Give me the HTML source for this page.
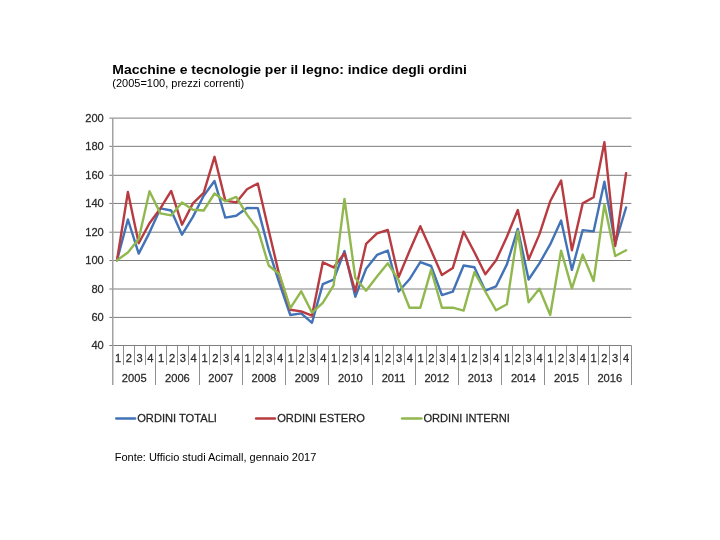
<!DOCTYPE html>
<html><head><meta charset="utf-8"><title>Macchine e tecnologie per il legno</title>
<style>
html,body{margin:0;padding:0;background:#fff;}
body{width:720px;height:540px;position:relative;overflow:hidden;font-family:"Liberation Sans",Arial,sans-serif;color:#000;}
.t{position:absolute;white-space:nowrap;}
#title{left:112.3px;top:60.6px;font-size:13.95px;font-weight:bold;line-height:17px;transform:scaleY(0.95);transform-origin:0 13.4px;}
#sub{left:112.3px;top:76.6px;font-size:11px;line-height:13px;transform:scaleY(0.95);transform-origin:0 10.5px;}
#src{left:114.7px;top:451px;font-size:11px;line-height:13px;}
</style></head><body>
<svg width="720" height="540" viewBox="0 0 720 540" style="position:absolute;left:0;top:0">
<line x1="109.3" x2="631.4" y1="345.50" y2="345.50" stroke="#7e7e7e" stroke-width="1"/>
<line x1="109.3" x2="631.4" y1="317.40" y2="317.40" stroke="#7e7e7e" stroke-width="1"/>
<line x1="109.3" x2="631.4" y1="289.00" y2="289.00" stroke="#7e7e7e" stroke-width="1"/>
<line x1="109.3" x2="631.4" y1="260.50" y2="260.50" stroke="#7e7e7e" stroke-width="1"/>
<line x1="109.3" x2="631.4" y1="232.20" y2="232.20" stroke="#7e7e7e" stroke-width="1"/>
<line x1="109.3" x2="631.4" y1="203.45" y2="203.45" stroke="#7e7e7e" stroke-width="1"/>
<line x1="109.3" x2="631.4" y1="175.30" y2="175.30" stroke="#7e7e7e" stroke-width="1"/>
<line x1="109.3" x2="631.4" y1="146.35" y2="146.35" stroke="#7e7e7e" stroke-width="1"/>
<line x1="109.3" x2="631.4" y1="118.10" y2="118.10" stroke="#7e7e7e" stroke-width="1"/>
<line x1="112.75" x2="112.75" y1="118.1" y2="385" stroke="#a2a2a2" stroke-width="1.5"/>
<line x1="123.5" x2="123.5" y1="345.5" y2="365.0" stroke="#8e8e8e" stroke-width="1"/>
<line x1="134.5" x2="134.5" y1="345.5" y2="365.0" stroke="#8e8e8e" stroke-width="1"/>
<line x1="145.5" x2="145.5" y1="345.5" y2="365.0" stroke="#8e8e8e" stroke-width="1"/>
<line x1="155.5" x2="155.5" y1="345.5" y2="385.0" stroke="#8e8e8e" stroke-width="1"/>
<line x1="166.5" x2="166.5" y1="345.5" y2="365.0" stroke="#8e8e8e" stroke-width="1"/>
<line x1="177.5" x2="177.5" y1="345.5" y2="365.0" stroke="#8e8e8e" stroke-width="1"/>
<line x1="188.5" x2="188.5" y1="345.5" y2="365.0" stroke="#8e8e8e" stroke-width="1"/>
<line x1="199.5" x2="199.5" y1="345.5" y2="385.0" stroke="#8e8e8e" stroke-width="1"/>
<line x1="209.5" x2="209.5" y1="345.5" y2="365.0" stroke="#8e8e8e" stroke-width="1"/>
<line x1="220.5" x2="220.5" y1="345.5" y2="365.0" stroke="#8e8e8e" stroke-width="1"/>
<line x1="231.5" x2="231.5" y1="345.5" y2="365.0" stroke="#8e8e8e" stroke-width="1"/>
<line x1="242.5" x2="242.5" y1="345.5" y2="385.0" stroke="#8e8e8e" stroke-width="1"/>
<line x1="253.5" x2="253.5" y1="345.5" y2="365.0" stroke="#8e8e8e" stroke-width="1"/>
<line x1="263.5" x2="263.5" y1="345.5" y2="365.0" stroke="#8e8e8e" stroke-width="1"/>
<line x1="274.5" x2="274.5" y1="345.5" y2="365.0" stroke="#8e8e8e" stroke-width="1"/>
<line x1="285.5" x2="285.5" y1="345.5" y2="385.0" stroke="#8e8e8e" stroke-width="1"/>
<line x1="296.5" x2="296.5" y1="345.5" y2="365.0" stroke="#8e8e8e" stroke-width="1"/>
<line x1="307.5" x2="307.5" y1="345.5" y2="365.0" stroke="#8e8e8e" stroke-width="1"/>
<line x1="317.5" x2="317.5" y1="345.5" y2="365.0" stroke="#8e8e8e" stroke-width="1"/>
<line x1="328.5" x2="328.5" y1="345.5" y2="385.0" stroke="#8e8e8e" stroke-width="1"/>
<line x1="339.5" x2="339.5" y1="345.5" y2="365.0" stroke="#8e8e8e" stroke-width="1"/>
<line x1="350.5" x2="350.5" y1="345.5" y2="365.0" stroke="#8e8e8e" stroke-width="1"/>
<line x1="361.5" x2="361.5" y1="345.5" y2="365.0" stroke="#8e8e8e" stroke-width="1"/>
<line x1="372.5" x2="372.5" y1="345.5" y2="385.0" stroke="#8e8e8e" stroke-width="1"/>
<line x1="382.5" x2="382.5" y1="345.5" y2="365.0" stroke="#8e8e8e" stroke-width="1"/>
<line x1="393.5" x2="393.5" y1="345.5" y2="365.0" stroke="#8e8e8e" stroke-width="1"/>
<line x1="404.5" x2="404.5" y1="345.5" y2="365.0" stroke="#8e8e8e" stroke-width="1"/>
<line x1="415.5" x2="415.5" y1="345.5" y2="385.0" stroke="#8e8e8e" stroke-width="1"/>
<line x1="426.5" x2="426.5" y1="345.5" y2="365.0" stroke="#8e8e8e" stroke-width="1"/>
<line x1="436.5" x2="436.5" y1="345.5" y2="365.0" stroke="#8e8e8e" stroke-width="1"/>
<line x1="447.5" x2="447.5" y1="345.5" y2="365.0" stroke="#8e8e8e" stroke-width="1"/>
<line x1="458.5" x2="458.5" y1="345.5" y2="385.0" stroke="#8e8e8e" stroke-width="1"/>
<line x1="469.5" x2="469.5" y1="345.5" y2="365.0" stroke="#8e8e8e" stroke-width="1"/>
<line x1="480.5" x2="480.5" y1="345.5" y2="365.0" stroke="#8e8e8e" stroke-width="1"/>
<line x1="490.5" x2="490.5" y1="345.5" y2="365.0" stroke="#8e8e8e" stroke-width="1"/>
<line x1="501.5" x2="501.5" y1="345.5" y2="385.0" stroke="#8e8e8e" stroke-width="1"/>
<line x1="512.5" x2="512.5" y1="345.5" y2="365.0" stroke="#8e8e8e" stroke-width="1"/>
<line x1="523.5" x2="523.5" y1="345.5" y2="365.0" stroke="#8e8e8e" stroke-width="1"/>
<line x1="534.5" x2="534.5" y1="345.5" y2="365.0" stroke="#8e8e8e" stroke-width="1"/>
<line x1="544.5" x2="544.5" y1="345.5" y2="385.0" stroke="#8e8e8e" stroke-width="1"/>
<line x1="555.5" x2="555.5" y1="345.5" y2="365.0" stroke="#8e8e8e" stroke-width="1"/>
<line x1="566.5" x2="566.5" y1="345.5" y2="365.0" stroke="#8e8e8e" stroke-width="1"/>
<line x1="577.5" x2="577.5" y1="345.5" y2="365.0" stroke="#8e8e8e" stroke-width="1"/>
<line x1="588.5" x2="588.5" y1="345.5" y2="385.0" stroke="#8e8e8e" stroke-width="1"/>
<line x1="598.5" x2="598.5" y1="345.5" y2="365.0" stroke="#8e8e8e" stroke-width="1"/>
<line x1="609.5" x2="609.5" y1="345.5" y2="365.0" stroke="#8e8e8e" stroke-width="1"/>
<line x1="620.5" x2="620.5" y1="345.5" y2="365.0" stroke="#8e8e8e" stroke-width="1"/>
<line x1="631.5" x2="631.5" y1="345.5" y2="385.0" stroke="#8e8e8e" stroke-width="1"/>
<polyline fill="none" stroke="#4273b6" stroke-width="2.4" stroke-linejoin="round" stroke-linecap="round" points="117.0,260.3 127.9,219.5 138.7,253.6 149.5,232.6 160.4,208.4 171.2,210.5 182.0,234.7 192.9,216.9 203.7,195.7 214.5,181.0 225.3,217.6 236.2,215.8 247.0,208.0 257.8,208.1 268.7,249.6 279.5,283.7 290.3,315.0 301.2,313.4 312.0,322.8 322.8,284.1 333.6,279.7 344.5,251.0 355.3,296.7 366.1,268.8 377.0,254.9 387.8,250.6 398.6,291.5 409.5,279.3 420.3,262.1 431.1,266.0 441.9,295.1 452.8,291.7 463.6,265.5 474.4,267.2 485.3,290.7 496.1,286.3 506.9,264.4 517.8,228.9 528.6,279.5 539.4,263.3 550.2,244.4 561.1,220.5 571.9,269.9 582.7,230.1 593.6,231.4 604.4,181.7 615.2,243.6 626.1,207.5"/>
<polyline fill="none" stroke="#b73b40" stroke-width="2.4" stroke-linejoin="round" stroke-linecap="round" points="117.0,260.3 127.9,192.0 138.7,243.2 149.5,223.3 160.4,208.4 171.2,190.9 182.0,224.7 192.9,203.4 203.7,192.8 214.5,156.8 225.3,200.6 236.2,202.4 247.0,189.2 257.8,183.5 268.7,230.4 279.5,275.9 290.3,309.7 301.2,311.4 312.0,315.7 322.8,262.3 333.6,267.4 344.5,253.2 355.3,291.5 366.1,243.9 377.0,233.3 387.8,230.0 398.6,277.3 409.5,251.0 420.3,226.2 431.1,250.3 441.9,275.1 452.8,268.1 463.6,231.7 474.4,252.2 485.3,274.2 496.1,260.3 506.9,236.7 517.8,210.0 528.6,259.6 539.4,234.4 550.2,201.3 561.1,180.5 571.9,250.3 582.7,203.4 593.6,197.3 604.4,142.2 615.2,246.1 626.1,173.3"/>
<polyline fill="none" stroke="#90b84e" stroke-width="2.4" stroke-linejoin="round" stroke-linecap="round" points="117.0,260.3 127.9,252.5 138.7,239.0 149.5,191.3 160.4,213.4 171.2,215.4 182.0,202.4 192.9,209.8 203.7,210.5 214.5,193.5 225.3,201.3 236.2,196.9 247.0,214.6 257.8,229.1 268.7,265.5 279.5,274.3 290.3,308.2 301.2,291.3 312.0,312.6 322.8,302.9 333.6,285.4 344.5,198.9 355.3,277.9 366.1,290.7 377.0,276.6 387.8,263.3 398.6,280.2 409.5,307.7 420.3,307.7 431.1,269.9 441.9,307.7 452.8,307.7 463.6,310.6 474.4,272.2 485.3,291.5 496.1,310.3 506.9,304.3 517.8,231.0 528.6,302.2 539.4,288.8 550.2,315.0 561.1,250.6 571.9,288.4 582.7,254.6 593.6,281.0 604.4,204.6 615.2,256.0 626.1,250.2"/>
<line x1="116.3" x2="135.0" y1="418.45" y2="418.45" stroke="#4273b6" stroke-width="2.5" stroke-linecap="round"/>
<line x1="256.1" x2="274.9" y1="418.45" y2="418.45" stroke="#b73b40" stroke-width="2.5" stroke-linecap="round"/>
<line x1="402.1" x2="421.4" y1="418.45" y2="418.45" stroke="#90b84e" stroke-width="2.5" stroke-linecap="round"/>
<text transform="translate(103.8 349.3) scale(0.960 1)" text-anchor="end" font-size="11.6" fill="#2a2a2a" font-family="Liberation Sans, Arial, sans-serif" stroke="#2a2a2a" stroke-width="0.25">40</text>
<text transform="translate(103.8 321.2) scale(0.960 1)" text-anchor="end" font-size="11.6" fill="#2a2a2a" font-family="Liberation Sans, Arial, sans-serif" stroke="#2a2a2a" stroke-width="0.25">60</text>
<text transform="translate(103.8 292.8) scale(0.960 1)" text-anchor="end" font-size="11.6" fill="#2a2a2a" font-family="Liberation Sans, Arial, sans-serif" stroke="#2a2a2a" stroke-width="0.25">80</text>
<text transform="translate(103.8 264.3) scale(0.960 1)" text-anchor="end" font-size="11.6" fill="#2a2a2a" font-family="Liberation Sans, Arial, sans-serif" stroke="#2a2a2a" stroke-width="0.25">100</text>
<text transform="translate(103.8 236.0) scale(0.960 1)" text-anchor="end" font-size="11.6" fill="#2a2a2a" font-family="Liberation Sans, Arial, sans-serif" stroke="#2a2a2a" stroke-width="0.25">120</text>
<text transform="translate(103.8 207.2) scale(0.960 1)" text-anchor="end" font-size="11.6" fill="#2a2a2a" font-family="Liberation Sans, Arial, sans-serif" stroke="#2a2a2a" stroke-width="0.25">140</text>
<text transform="translate(103.8 179.1) scale(0.960 1)" text-anchor="end" font-size="11.6" fill="#2a2a2a" font-family="Liberation Sans, Arial, sans-serif" stroke="#2a2a2a" stroke-width="0.25">160</text>
<text transform="translate(103.8 150.2) scale(0.960 1)" text-anchor="end" font-size="11.6" fill="#2a2a2a" font-family="Liberation Sans, Arial, sans-serif" stroke="#2a2a2a" stroke-width="0.25">180</text>
<text transform="translate(103.8 121.9) scale(0.960 1)" text-anchor="end" font-size="11.6" fill="#2a2a2a" font-family="Liberation Sans, Arial, sans-serif" stroke="#2a2a2a" stroke-width="0.25">200</text>
<text transform="translate(118.0 362.3) scale(0.960 1)" text-anchor="middle" font-size="11.6" fill="#2a2a2a" font-family="Liberation Sans, Arial, sans-serif" stroke="#2a2a2a" stroke-width="0.25">1</text>
<text transform="translate(128.8 362.3) scale(0.960 1)" text-anchor="middle" font-size="11.6" fill="#2a2a2a" font-family="Liberation Sans, Arial, sans-serif" stroke="#2a2a2a" stroke-width="0.25">2</text>
<text transform="translate(139.6 362.3) scale(0.960 1)" text-anchor="middle" font-size="11.6" fill="#2a2a2a" font-family="Liberation Sans, Arial, sans-serif" stroke="#2a2a2a" stroke-width="0.25">3</text>
<text transform="translate(150.4 362.3) scale(0.960 1)" text-anchor="middle" font-size="11.6" fill="#2a2a2a" font-family="Liberation Sans, Arial, sans-serif" stroke="#2a2a2a" stroke-width="0.25">4</text>
<text transform="translate(161.2 362.3) scale(0.960 1)" text-anchor="middle" font-size="11.6" fill="#2a2a2a" font-family="Liberation Sans, Arial, sans-serif" stroke="#2a2a2a" stroke-width="0.25">1</text>
<text transform="translate(172.0 362.3) scale(0.960 1)" text-anchor="middle" font-size="11.6" fill="#2a2a2a" font-family="Liberation Sans, Arial, sans-serif" stroke="#2a2a2a" stroke-width="0.25">2</text>
<text transform="translate(182.9 362.3) scale(0.960 1)" text-anchor="middle" font-size="11.6" fill="#2a2a2a" font-family="Liberation Sans, Arial, sans-serif" stroke="#2a2a2a" stroke-width="0.25">3</text>
<text transform="translate(193.7 362.3) scale(0.960 1)" text-anchor="middle" font-size="11.6" fill="#2a2a2a" font-family="Liberation Sans, Arial, sans-serif" stroke="#2a2a2a" stroke-width="0.25">4</text>
<text transform="translate(204.5 362.3) scale(0.960 1)" text-anchor="middle" font-size="11.6" fill="#2a2a2a" font-family="Liberation Sans, Arial, sans-serif" stroke="#2a2a2a" stroke-width="0.25">1</text>
<text transform="translate(215.3 362.3) scale(0.960 1)" text-anchor="middle" font-size="11.6" fill="#2a2a2a" font-family="Liberation Sans, Arial, sans-serif" stroke="#2a2a2a" stroke-width="0.25">2</text>
<text transform="translate(226.1 362.3) scale(0.960 1)" text-anchor="middle" font-size="11.6" fill="#2a2a2a" font-family="Liberation Sans, Arial, sans-serif" stroke="#2a2a2a" stroke-width="0.25">3</text>
<text transform="translate(236.9 362.3) scale(0.960 1)" text-anchor="middle" font-size="11.6" fill="#2a2a2a" font-family="Liberation Sans, Arial, sans-serif" stroke="#2a2a2a" stroke-width="0.25">4</text>
<text transform="translate(247.7 362.3) scale(0.960 1)" text-anchor="middle" font-size="11.6" fill="#2a2a2a" font-family="Liberation Sans, Arial, sans-serif" stroke="#2a2a2a" stroke-width="0.25">1</text>
<text transform="translate(258.5 362.3) scale(0.960 1)" text-anchor="middle" font-size="11.6" fill="#2a2a2a" font-family="Liberation Sans, Arial, sans-serif" stroke="#2a2a2a" stroke-width="0.25">2</text>
<text transform="translate(269.3 362.3) scale(0.960 1)" text-anchor="middle" font-size="11.6" fill="#2a2a2a" font-family="Liberation Sans, Arial, sans-serif" stroke="#2a2a2a" stroke-width="0.25">3</text>
<text transform="translate(280.1 362.3) scale(0.960 1)" text-anchor="middle" font-size="11.6" fill="#2a2a2a" font-family="Liberation Sans, Arial, sans-serif" stroke="#2a2a2a" stroke-width="0.25">4</text>
<text transform="translate(290.9 362.3) scale(0.960 1)" text-anchor="middle" font-size="11.6" fill="#2a2a2a" font-family="Liberation Sans, Arial, sans-serif" stroke="#2a2a2a" stroke-width="0.25">1</text>
<text transform="translate(301.7 362.3) scale(0.960 1)" text-anchor="middle" font-size="11.6" fill="#2a2a2a" font-family="Liberation Sans, Arial, sans-serif" stroke="#2a2a2a" stroke-width="0.25">2</text>
<text transform="translate(312.6 362.3) scale(0.960 1)" text-anchor="middle" font-size="11.6" fill="#2a2a2a" font-family="Liberation Sans, Arial, sans-serif" stroke="#2a2a2a" stroke-width="0.25">3</text>
<text transform="translate(323.4 362.3) scale(0.960 1)" text-anchor="middle" font-size="11.6" fill="#2a2a2a" font-family="Liberation Sans, Arial, sans-serif" stroke="#2a2a2a" stroke-width="0.25">4</text>
<text transform="translate(334.2 362.3) scale(0.960 1)" text-anchor="middle" font-size="11.6" fill="#2a2a2a" font-family="Liberation Sans, Arial, sans-serif" stroke="#2a2a2a" stroke-width="0.25">1</text>
<text transform="translate(345.0 362.3) scale(0.960 1)" text-anchor="middle" font-size="11.6" fill="#2a2a2a" font-family="Liberation Sans, Arial, sans-serif" stroke="#2a2a2a" stroke-width="0.25">2</text>
<text transform="translate(355.8 362.3) scale(0.960 1)" text-anchor="middle" font-size="11.6" fill="#2a2a2a" font-family="Liberation Sans, Arial, sans-serif" stroke="#2a2a2a" stroke-width="0.25">3</text>
<text transform="translate(366.6 362.3) scale(0.960 1)" text-anchor="middle" font-size="11.6" fill="#2a2a2a" font-family="Liberation Sans, Arial, sans-serif" stroke="#2a2a2a" stroke-width="0.25">4</text>
<text transform="translate(377.4 362.3) scale(0.960 1)" text-anchor="middle" font-size="11.6" fill="#2a2a2a" font-family="Liberation Sans, Arial, sans-serif" stroke="#2a2a2a" stroke-width="0.25">1</text>
<text transform="translate(388.2 362.3) scale(0.960 1)" text-anchor="middle" font-size="11.6" fill="#2a2a2a" font-family="Liberation Sans, Arial, sans-serif" stroke="#2a2a2a" stroke-width="0.25">2</text>
<text transform="translate(399.0 362.3) scale(0.960 1)" text-anchor="middle" font-size="11.6" fill="#2a2a2a" font-family="Liberation Sans, Arial, sans-serif" stroke="#2a2a2a" stroke-width="0.25">3</text>
<text transform="translate(409.8 362.3) scale(0.960 1)" text-anchor="middle" font-size="11.6" fill="#2a2a2a" font-family="Liberation Sans, Arial, sans-serif" stroke="#2a2a2a" stroke-width="0.25">4</text>
<text transform="translate(420.6 362.3) scale(0.960 1)" text-anchor="middle" font-size="11.6" fill="#2a2a2a" font-family="Liberation Sans, Arial, sans-serif" stroke="#2a2a2a" stroke-width="0.25">1</text>
<text transform="translate(431.4 362.3) scale(0.960 1)" text-anchor="middle" font-size="11.6" fill="#2a2a2a" font-family="Liberation Sans, Arial, sans-serif" stroke="#2a2a2a" stroke-width="0.25">2</text>
<text transform="translate(442.3 362.3) scale(0.960 1)" text-anchor="middle" font-size="11.6" fill="#2a2a2a" font-family="Liberation Sans, Arial, sans-serif" stroke="#2a2a2a" stroke-width="0.25">3</text>
<text transform="translate(453.1 362.3) scale(0.960 1)" text-anchor="middle" font-size="11.6" fill="#2a2a2a" font-family="Liberation Sans, Arial, sans-serif" stroke="#2a2a2a" stroke-width="0.25">4</text>
<text transform="translate(463.9 362.3) scale(0.960 1)" text-anchor="middle" font-size="11.6" fill="#2a2a2a" font-family="Liberation Sans, Arial, sans-serif" stroke="#2a2a2a" stroke-width="0.25">1</text>
<text transform="translate(474.7 362.3) scale(0.960 1)" text-anchor="middle" font-size="11.6" fill="#2a2a2a" font-family="Liberation Sans, Arial, sans-serif" stroke="#2a2a2a" stroke-width="0.25">2</text>
<text transform="translate(485.5 362.3) scale(0.960 1)" text-anchor="middle" font-size="11.6" fill="#2a2a2a" font-family="Liberation Sans, Arial, sans-serif" stroke="#2a2a2a" stroke-width="0.25">3</text>
<text transform="translate(496.3 362.3) scale(0.960 1)" text-anchor="middle" font-size="11.6" fill="#2a2a2a" font-family="Liberation Sans, Arial, sans-serif" stroke="#2a2a2a" stroke-width="0.25">4</text>
<text transform="translate(507.1 362.3) scale(0.960 1)" text-anchor="middle" font-size="11.6" fill="#2a2a2a" font-family="Liberation Sans, Arial, sans-serif" stroke="#2a2a2a" stroke-width="0.25">1</text>
<text transform="translate(517.9 362.3) scale(0.960 1)" text-anchor="middle" font-size="11.6" fill="#2a2a2a" font-family="Liberation Sans, Arial, sans-serif" stroke="#2a2a2a" stroke-width="0.25">2</text>
<text transform="translate(528.7 362.3) scale(0.960 1)" text-anchor="middle" font-size="11.6" fill="#2a2a2a" font-family="Liberation Sans, Arial, sans-serif" stroke="#2a2a2a" stroke-width="0.25">3</text>
<text transform="translate(539.5 362.3) scale(0.960 1)" text-anchor="middle" font-size="11.6" fill="#2a2a2a" font-family="Liberation Sans, Arial, sans-serif" stroke="#2a2a2a" stroke-width="0.25">4</text>
<text transform="translate(550.3 362.3) scale(0.960 1)" text-anchor="middle" font-size="11.6" fill="#2a2a2a" font-family="Liberation Sans, Arial, sans-serif" stroke="#2a2a2a" stroke-width="0.25">1</text>
<text transform="translate(561.1 362.3) scale(0.960 1)" text-anchor="middle" font-size="11.6" fill="#2a2a2a" font-family="Liberation Sans, Arial, sans-serif" stroke="#2a2a2a" stroke-width="0.25">2</text>
<text transform="translate(572.0 362.3) scale(0.960 1)" text-anchor="middle" font-size="11.6" fill="#2a2a2a" font-family="Liberation Sans, Arial, sans-serif" stroke="#2a2a2a" stroke-width="0.25">3</text>
<text transform="translate(582.8 362.3) scale(0.960 1)" text-anchor="middle" font-size="11.6" fill="#2a2a2a" font-family="Liberation Sans, Arial, sans-serif" stroke="#2a2a2a" stroke-width="0.25">4</text>
<text transform="translate(593.6 362.3) scale(0.960 1)" text-anchor="middle" font-size="11.6" fill="#2a2a2a" font-family="Liberation Sans, Arial, sans-serif" stroke="#2a2a2a" stroke-width="0.25">1</text>
<text transform="translate(604.4 362.3) scale(0.960 1)" text-anchor="middle" font-size="11.6" fill="#2a2a2a" font-family="Liberation Sans, Arial, sans-serif" stroke="#2a2a2a" stroke-width="0.25">2</text>
<text transform="translate(615.2 362.3) scale(0.960 1)" text-anchor="middle" font-size="11.6" fill="#2a2a2a" font-family="Liberation Sans, Arial, sans-serif" stroke="#2a2a2a" stroke-width="0.25">3</text>
<text transform="translate(626.0 362.3) scale(0.960 1)" text-anchor="middle" font-size="11.6" fill="#2a2a2a" font-family="Liberation Sans, Arial, sans-serif" stroke="#2a2a2a" stroke-width="0.25">4</text>
<text transform="translate(134.2 381.8) scale(0.960 1)" text-anchor="middle" font-size="11.6" fill="#2a2a2a" font-family="Liberation Sans, Arial, sans-serif" stroke="#2a2a2a" stroke-width="0.25">2005</text>
<text transform="translate(177.4 381.8) scale(0.960 1)" text-anchor="middle" font-size="11.6" fill="#2a2a2a" font-family="Liberation Sans, Arial, sans-serif" stroke="#2a2a2a" stroke-width="0.25">2006</text>
<text transform="translate(220.7 381.8) scale(0.960 1)" text-anchor="middle" font-size="11.6" fill="#2a2a2a" font-family="Liberation Sans, Arial, sans-serif" stroke="#2a2a2a" stroke-width="0.25">2007</text>
<text transform="translate(263.9 381.8) scale(0.960 1)" text-anchor="middle" font-size="11.6" fill="#2a2a2a" font-family="Liberation Sans, Arial, sans-serif" stroke="#2a2a2a" stroke-width="0.25">2008</text>
<text transform="translate(307.1 381.8) scale(0.960 1)" text-anchor="middle" font-size="11.6" fill="#2a2a2a" font-family="Liberation Sans, Arial, sans-serif" stroke="#2a2a2a" stroke-width="0.25">2009</text>
<text transform="translate(350.4 381.8) scale(0.960 1)" text-anchor="middle" font-size="11.6" fill="#2a2a2a" font-family="Liberation Sans, Arial, sans-serif" stroke="#2a2a2a" stroke-width="0.25">2010</text>
<text transform="translate(393.6 381.8) scale(0.960 1)" text-anchor="middle" font-size="11.6" fill="#2a2a2a" font-family="Liberation Sans, Arial, sans-serif" stroke="#2a2a2a" stroke-width="0.25">2011</text>
<text transform="translate(436.8 381.8) scale(0.960 1)" text-anchor="middle" font-size="11.6" fill="#2a2a2a" font-family="Liberation Sans, Arial, sans-serif" stroke="#2a2a2a" stroke-width="0.25">2012</text>
<text transform="translate(480.1 381.8) scale(0.960 1)" text-anchor="middle" font-size="11.6" fill="#2a2a2a" font-family="Liberation Sans, Arial, sans-serif" stroke="#2a2a2a" stroke-width="0.25">2013</text>
<text transform="translate(523.3 381.8) scale(0.960 1)" text-anchor="middle" font-size="11.6" fill="#2a2a2a" font-family="Liberation Sans, Arial, sans-serif" stroke="#2a2a2a" stroke-width="0.25">2014</text>
<text transform="translate(566.5 381.8) scale(0.960 1)" text-anchor="middle" font-size="11.6" fill="#2a2a2a" font-family="Liberation Sans, Arial, sans-serif" stroke="#2a2a2a" stroke-width="0.25">2015</text>
<text transform="translate(609.8 381.8) scale(0.960 1)" text-anchor="middle" font-size="11.6" fill="#2a2a2a" font-family="Liberation Sans, Arial, sans-serif" stroke="#2a2a2a" stroke-width="0.25">2016</text>
<text transform="translate(137.2 422.3) scale(0.960 1)" text-anchor="start" font-size="11.6" fill="#222" font-family="Liberation Sans, Arial, sans-serif" stroke="#2a2a2a" stroke-width="0.25">ORDINI TOTALI</text>
<text transform="translate(277.2 422.3) scale(0.960 1)" text-anchor="start" font-size="11.6" fill="#222" font-family="Liberation Sans, Arial, sans-serif" stroke="#2a2a2a" stroke-width="0.25">ORDINI ESTERO</text>
<text transform="translate(423.4 422.3) scale(0.960 1)" text-anchor="start" font-size="11.6" fill="#222" font-family="Liberation Sans, Arial, sans-serif" stroke="#2a2a2a" stroke-width="0.25">ORDINI INTERNI</text>
</svg>
<div class="t" id="title">Macchine e tecnologie per il legno: indice degli ordini</div>
<div class="t" id="sub">(2005=100, prezzi correnti)</div>
<div class="t" id="src">Fonte: Ufficio studi Acimall, gennaio 2017</div>
</body></html>
